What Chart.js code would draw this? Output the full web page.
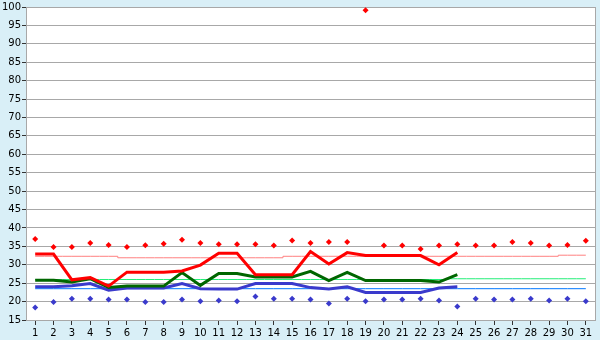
<!DOCTYPE html>
<html>
<head>
<meta charset="utf-8">
<script src="https://cdn.jsdelivr.net/npm/chart.js@4/dist/chart.umd.min.js"></script>
<style>
html,body{margin:0;padding:0;background:#D9EFF7;}
#wrap{width:600px;height:340px;position:relative;}
</style>
</head>
<body>
<div id="wrap"><canvas id="c" width="600" height="340"></canvas></div>
<script>
const days = ['1','2','3','4','5','6','7','8','9','10','11','12','13','14','15','16','17','18','19','20','21','22','23','24','25','26','27','28','29','30','31'];
const yTicks = [15,20,25,30,35,40,45,50,55,60,65,70,75,80,85,90,95,100];

const highMarks = [37.0,34.8,34.8,35.9,35.4,34.8,35.3,35.7,36.8,35.9,35.6,35.6,35.6,35.2,36.6,35.9,36.2,36.2,99.1,35.2,35.2,34.3,35.2,35.6,35.2,35.2,36.2,35.9,35.2,35.4,36.5];
const lowMarks  = [18.4,19.9,20.8,20.8,20.6,20.6,19.9,19.9,20.6,20.1,20.3,20.1,21.4,20.8,20.8,20.6,19.5,20.8,20.1,20.6,20.6,20.8,20.3,18.7,20.8,20.6,20.6,20.8,20.3,20.8,20.1];

const redLine   = [32.9,32.9,25.9,26.5,24.2,28.0,28.0,28.0,28.3,29.9,33.1,33.1,27.3,27.3,27.3,33.6,30.2,33.3,32.5,32.5,32.5,32.5,30.0,33.3,null,null,null,null,null,null,null];
const greenLine = [25.8,25.8,25.3,26.2,23.8,24.2,24.2,24.2,27.9,24.4,27.6,27.6,26.7,26.7,26.7,28.2,25.7,27.9,25.7,25.7,25.7,25.7,25.3,27.3,null,null,null,null,null,null,null];
const blueLine  = [24.0,24.0,24.3,24.9,23.1,23.7,23.7,23.7,24.9,23.5,23.4,23.4,24.9,24.9,24.9,23.8,23.4,24.0,22.5,22.5,22.5,22.5,23.7,24.0,null,null,null,null,null,null,null];

const pinkRef  = [32.3,32.3,32.3,32.3,32.3,31.9,31.9,31.9,31.9,31.9,31.9,31.9,31.9,31.9,32.3,32.3,32.3,32.3,32.3,32.3,32.3,32.3,32.3,32.3,32.3,32.3,32.3,32.3,32.3,32.6,32.6];
const greenRef = [26.0,26.0,26.0,26.0,26.0,26.0,26.0,26.0,26.0,26.0,26.0,26.0,26.0,26.0,26.0,26.0,26.0,26.0,26.0,26.0,26.0,26.0,26.0,26.2,26.2,26.2,26.2,26.2,26.2,26.2,26.2];
const blueRef  = [23.5,23.5,23.5,23.5,23.5,23.5,23.5,23.5,23.5,23.5,23.5,23.5,23.5,23.5,23.5,23.5,23.5,23.5,23.5,23.5,23.5,23.5,23.5,23.5,23.5,23.5,23.5,23.5,23.5,23.5,23.5];

const areaPlugin = {
  id: 'area',
  beforeDraw(chart) {
    const {ctx, chartArea: a} = chart;
    ctx.save();
    ctx.fillStyle = '#D9EFF7';
    ctx.fillRect(0, 0, chart.width, chart.height);
    ctx.fillStyle = '#FFFFFF';
    ctx.fillRect(a.left, a.top, a.right - a.left, a.bottom - a.top);
    ctx.restore();
  },
  afterDatasetsDraw(chart) {
    const {ctx, chartArea: a} = chart;
    ctx.save();
    ctx.strokeStyle = '#A8A8A8';
    ctx.lineWidth = 1;
    ctx.beginPath();
    ctx.moveTo(Math.round(a.right) + 0.5, a.top);
    ctx.lineTo(Math.round(a.right) + 0.5, a.bottom);
    ctx.stroke();
    ctx.restore();
  }
};

function lineDs(data, color, width, order, stepped) {
  return {data, borderColor: color, backgroundColor: color, borderWidth: width, pointRadius: 0, tension: 0, fill: false, spanGaps: false, order, stepped: stepped || false};
}
function markDs(data, color, order) {
  return {data, showLine: false, pointStyle: 'rectRot', pointRadius: 3, pointBorderWidth: 0, borderColor: color, backgroundColor: color, order};
}

new Chart(document.getElementById('c'), {
  type: 'line',
  data: {
    labels: days,
    datasets: [
      markDs(highMarks, '#FF0000', 0),
      markDs(lowMarks, '#3A3ACC', 0),
      lineDs(redLine, '#FF0000', 3, 1),
      lineDs(greenLine, '#006600', 3, 2),
      lineDs(blueLine, '#3A3ACC', 3, 3),
      lineDs(pinkRef, '#FF8080', 1, 5, 'middle'),
      lineDs(greenRef, '#22EE77', 1, 5, 'middle'),
      lineDs(blueRef, '#0077FF', 1, 5)
    ]
  },
  options: {
    responsive: false,
    animation: false,
    events: [],
    layout: {padding: {top: 5, right: 5, left: 0, bottom: 0}},
    plugins: {legend: {display: false}, tooltip: {enabled: false}},
    scales: {
      x: {
        offset: true,
        grid: {display: true, drawOnChartArea: false, drawTicks: true, tickLength: 5, color: '#333333', offset: false},
        border: {display: true, color: '#A8A8A8'},
        ticks: {color: '#000000', font: {family: 'DejaVu Sans', size: 10}, padding: 2, maxRotation: 0, autoSkip: false},
        afterFit(s) { s.height = 20; }
      },
      y: {
        min: 15, max: 100,
        afterBuildTicks(s) { s.ticks = yTicks.map(v => ({value: v})); },
        grid: {color: '#A8A8A8', drawTicks: true, tickLength: 4, tickColor: '#333333'},
        border: {display: true, color: '#A8A8A8'},
        ticks: {color: '#000000', font: {family: 'DejaVu Sans', size: 10}, padding: 1},
        afterFit(s) { s.width = 26; }
      }
    }
  },
  plugins: [areaPlugin]
});
</script>
</body>
</html>
